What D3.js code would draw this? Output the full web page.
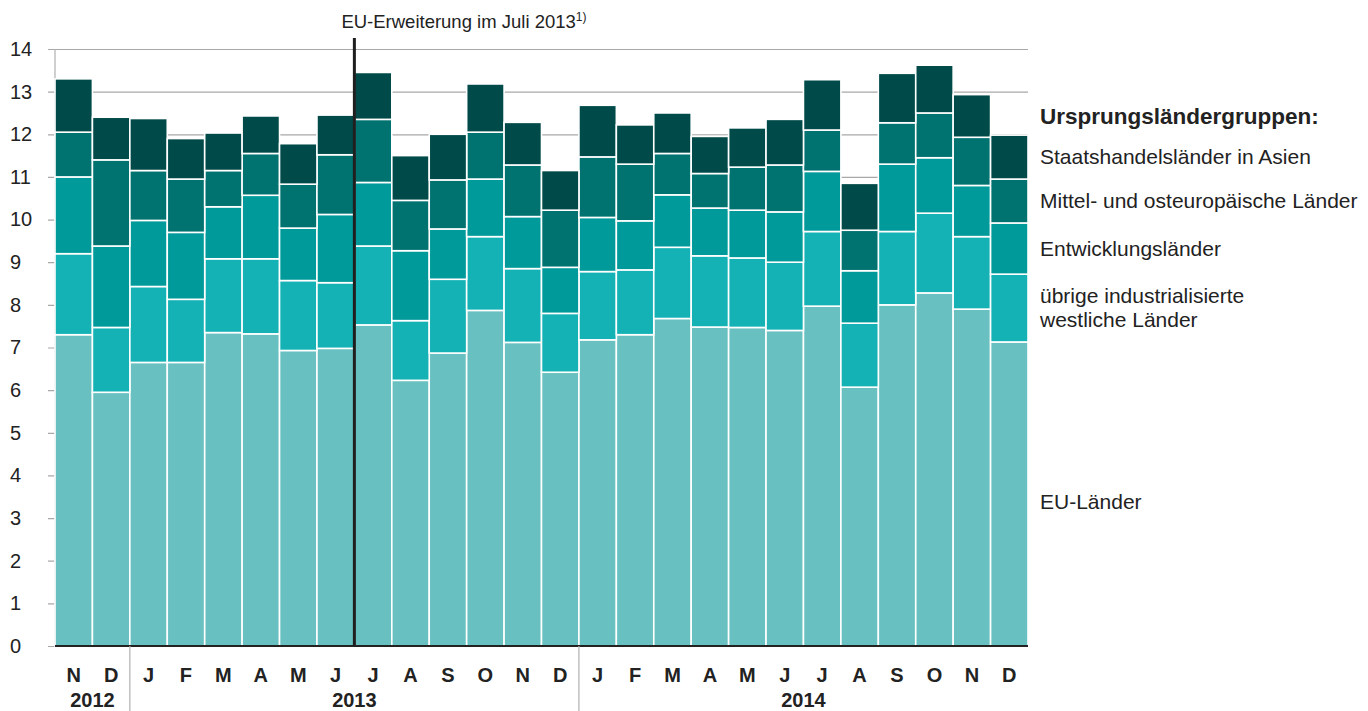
<!DOCTYPE html>
<html lang="de">
  <head>
    <meta charset="UTF-8" />
    <title>Ursprungsländergruppen</title>
    <script src="https://cdnjs.cloudflare.com/ajax/libs/d3/7.8.5/d3.min.js"></script>
    <style>
      body {
        margin: 0;
        background: #fff;
        font-family: "Liberation Sans", Arial, sans-serif;
      }
      .tick text {
        font-size: 20px;
        fill: #222;
      }
    </style>
  </head>
  <body>
    <div id="chart"></div>
    <script>
      // months (26 bars: Nov 2012 - Dec 2014)
      const months = ["N", "D", "J", "F", "M", "A", "M", "J", "J", "A", "S", "O", "N", "D",
                      "J", "F", "M", "A", "M", "J", "J", "A", "S", "O", "N", "D"];
      const years = [
        { label: "2012", from: 0, to: 2 },
        { label: "2013", from: 2, to: 14 },
        { label: "2014", from: 14, to: 26 },
      ];
      const yTicks = [0, 1, 2, 3, 4, 5, 6, 7, 8, 9, 10, 11, 12, 13, 14];

      // series, bottom to top (values per month)
      const euLaender = [7.30, 5.95, 6.65, 6.65, 7.35, 7.32, 6.93, 6.98, 7.53, 6.23, 6.87, 7.87, 7.12,
                         6.42, 7.18, 7.30, 7.68, 7.48, 7.47, 7.40, 7.97, 6.07, 8.00, 8.28, 7.90, 7.13];
      const uebrigeWest = [1.90, 1.52, 1.78, 1.48, 1.73, 1.76, 1.64, 1.54, 1.85, 1.40, 1.73, 1.73, 1.73,
                           1.38, 1.60, 1.52, 1.67, 1.67, 1.63, 1.60, 1.75, 1.50, 1.72, 1.87, 1.70, 1.59];
      const entwicklung = [1.80, 1.91, 1.55, 1.57, 1.22, 1.49, 1.23, 1.60, 1.49, 1.64, 1.18, 1.35, 1.22,
                           1.08, 1.27, 1.15, 1.23, 1.12, 1.12, 1.18, 1.41, 1.23, 1.58, 1.30, 1.20, 1.20];
      const mittelOst = [1.05, 2.02, 1.17, 1.25, 0.85, 0.98, 1.03, 1.40, 1.48, 1.18, 1.15, 1.10, 1.21,
                         1.34, 1.42, 1.33, 0.97, 0.81, 1.01, 1.10, 0.97, 0.95, 0.97, 1.05, 1.13, 1.03];
      const staatsAsien = [1.25, 1.00, 1.22, 0.95, 0.88, 0.88, 0.95, 0.93, 1.10, 1.05, 1.07, 1.13, 1.00,
                           0.93, 1.21, 0.92, 0.95, 0.87, 0.92, 1.07, 1.18, 1.10, 1.16, 1.12, 1.00, 1.03];

      const seriesNames = ["EU-Länder", "übrige industrialisierte\nwestliche Länder",
                           "Entwicklungsländer", "Mittel- und osteuropäische Länder",
                           "Staatshandelsländer in Asien"];
      const seriesValues = [euLaender, uebrigeWest, entwicklung, mittelOst, staatsAsien];
      const colors = ["#69c0c0", "#14b2b5", "#019a9a", "#007270", "#004b4a"];

      const width = 1368;
      const height = 711;
      const margin = { left: 55, right: 340, top: 49, bottom: 65 };

      const svg = d3
        .select("#chart")
        .append("svg")
        .attr("width", width)
        .attr("height", height);

      // build rows for stacking
      const keys = d3.range(seriesNames.length).map(String);
      const rows = months.map((m, i) => {
        const r = { idx: i };
        keys.forEach((k, j) => (r[k] = seriesValues[j][i]));
        return r;
      });
      const stacked = d3.stack().keys(keys)(rows);

      const x = d3
        .scaleBand()
        .domain(d3.range(months.length))
        .range([margin.left, width - margin.right])
        .padding(0);
      const y = d3
        .scaleLinear()
        .domain([0, 14])
        .range([height - margin.bottom, margin.top]);

      // y axis with gridlines
      const yAxis = d3
        .axisLeft(y)
        .tickValues(yTicks)
        .tickSize(-(width - margin.right - margin.left + 7))
        .tickPadding(14);
      const gy = svg
        .append("g")
        .attr("transform", `translate(${margin.left - 7},0)`)
        .call(yAxis);
      gy.select(".domain").remove();
      gy.selectAll(".tick line").attr("stroke", "#a8a8a8").attr("stroke-width", 1.2);
      gy.selectAll(".tick text").attr("text-anchor", "start").attr("x", -38);

      // vertical axis line
      svg
        .append("line")
        .attr("x1", margin.left)
        .attr("x2", margin.left)
        .attr("y1", y(14))
        .attr("y2", y(0))
        .attr("stroke", "#b0b0b0")
        .attr("stroke-width", 1.2);

      // bars
      svg
        .append("g")
        .selectAll("g")
        .data(stacked)
        .join("g")
        .attr("fill", (d, i) => colors[i])
        .selectAll("rect")
        .data((d) => d)
        .join("rect")
        .attr("x", (d) => x(d.data.idx))
        .attr("width", x.bandwidth())
        .attr("y", (d) => y(d[1]))
        .attr("height", (d) => y(d[0]) - y(d[1]))
        .attr("stroke", "#ffffff")
        .attr("stroke-width", 1.6);

      // baseline
      svg
        .append("line")
        .attr("x1", margin.left)
        .attr("x2", width - margin.right)
        .attr("y1", y(0))
        .attr("y2", y(0))
        .attr("stroke", "#222")
        .attr("stroke-width", 2);

      // EU enlargement marker between J and J 2013
      const markX = x(8);
      svg
        .append("line")
        .attr("x1", markX)
        .attr("x2", markX)
        .attr("y1", 38)
        .attr("y2", y(0))
        .attr("stroke", "#1f1f1f")
        .attr("stroke-width", 3);
      const note = svg
        .append("text")
        .attr("x", markX - 13)
        .attr("y", 28)
        .attr("font-size", 18.5)
        .attr("fill", "#222");
      note.append("tspan").text("EU-Erweiterung im Juli 2013");
      note.append("tspan").attr("font-size", 12).attr("dy", -7).text("1)");

      // month labels
      svg
        .append("g")
        .selectAll("text")
        .data(months)
        .join("text")
        .attr("x", (d, i) => x(i) + x.bandwidth() / 2)
        .attr("y", height - margin.bottom + 36)
        .attr("text-anchor", "middle")
        .attr("font-size", 20)
        .attr("font-weight", "bold")
        .attr("fill", "#222")
        .text((d) => d);

      // year labels and separators
      svg
        .append("g")
        .selectAll("text")
        .data(years)
        .join("text")
        .attr("x", (d) => (x(d.from) + x(d.to - 1) + x.bandwidth()) / 2)
        .attr("y", height - 4)
        .attr("text-anchor", "middle")
        .attr("font-size", 20)
        .attr("font-weight", "bold")
        .attr("fill", "#222")
        .text((d) => d.label);
      svg
        .append("g")
        .selectAll("line")
        .data(years.slice(1))
        .join("line")
        .attr("x1", (d) => x(d.from))
        .attr("x2", (d) => x(d.from))
        .attr("y1", y(0))
        .attr("y2", height)
        .attr("stroke", "#b0b0b0")
        .attr("stroke-width", 1.2);

      // legend, aligned to the segments of the last bar
      const legendX = width - margin.right + 12;
      svg
        .append("text")
        .attr("x", legendX)
        .attr("y", 124)
        .attr("font-size", 22.5)
        .attr("font-weight", "bold")
        .attr("fill", "#222")
        .text("Ursprungsländergruppen:");
      const last = months.length - 1;
      stacked.forEach((s, i) => {
        const mid = y((s[last][0] + s[last][1]) / 2) + (i === 0 ? 8 : 0);
        const lines = seriesNames[i].split("\n");
        const t = svg
          .append("text")
          .attr("x", legendX)
          .attr("y", mid - ((lines.length - 1) * 24) / 2 + 7)
          .attr("font-size", 21)
          .attr("fill", "#222");
        lines.forEach((l, k) => {
          t.append("tspan")
            .attr("x", legendX)
            .attr("dy", k === 0 ? 0 : 24)
            .text(l);
        });
      });
    </script>
  </body>
</html>
